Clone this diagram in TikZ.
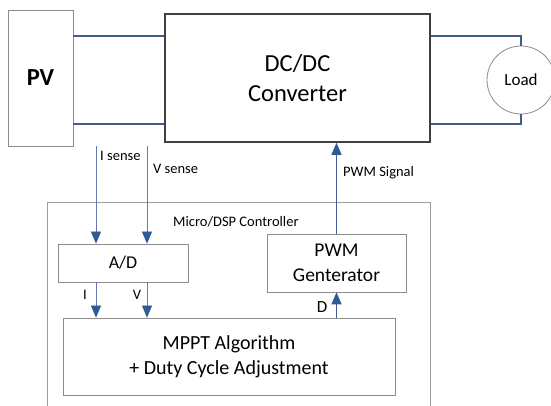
\documentclass[tikz,border=0pt]{standalone}
\usepackage{fontspec}
\setmainfont{Carlito}
\usepackage{tikz}
\usetikzlibrary{arrows.meta,calc}

\definecolor{wireblue}{HTML}{3F5B8F}
\definecolor{senseblue}{HTML}{6A78AE}
\definecolor{tipblue}{HTML}{2E5A96}
\definecolor{boxgray}{HTML}{8C8C8C}

\begin{document}
\begin{tikzpicture}[x=1pt,y=-1pt,
  box/.style={draw=boxgray,line width=0.8pt,rectangle,align=center,inner sep=0pt},
  wire/.style={draw=wireblue,line width=1.6pt},
  sense/.style={draw=senseblue,line width=0.7pt,-{Triangle[length=12pt,width=10pt,color=tipblue]}},
  pwmsig/.style={draw=wireblue,line width=1.6pt,-{Triangle[length=12pt,width=10pt,color=tipblue]}},
  lbl/.style={font=\fontsize{14.5}{16}\selectfont,inner sep=0pt}]
\clip (0,0) rectangle (551,406);
\useasboundingbox (0,0) rectangle (551,406);
% power side
\node[box,minimum width=65pt,minimum height=136pt,font=\fontsize{24.5}{28}\selectfont\bfseries] (pv) at (40.5,78) {PV};
\node[box,draw=black!75,line width=1.6pt,minimum width=265pt,minimum height=128pt,
  font=\fontsize{24.5}{30}\selectfont] (dc) at (297.5,78) {DC/DC\\Converter};
\node[box,circle,minimum size=68pt,font=\fontsize{17}{20}\selectfont] (load) at (521,80) {Load};
\draw[wire] ([yshift=42pt]pv.east) -- ([yshift=42pt]dc.west);
\draw[wire] ([yshift=-46pt]pv.east) -- ([yshift=-46pt]dc.west);
\draw[wire] ([yshift=42pt]dc.east) -| (load.north);
\draw[wire] ([yshift=-46pt]dc.east) -| (load.south);
% controller
\draw[draw=boxgray!85,line width=0.8pt] (47,410) -- (47,202) -- (430,202) -- (430,410);
\node[lbl,anchor=west] (ctrl) at (173,222) {Micro/DSP Controller};
\node[box,minimum width=130pt,minimum height=38pt,font=\fontsize{18}{20}\selectfont] (ad) at (123,263) {A/D};
\node[box,minimum width=139pt,minimum height=58pt,font=\fontsize{19.5}{25}\selectfont] (pwm) at (336.5,263) {PWM\\Genterator};
\node[box,minimum width=332pt,minimum height=77pt,font=\fontsize{20}{25}\selectfont] (mppt) at (229,356.5) {MPPT Algorithm\\+ Duty Cycle Adjustment};
% sensing
\coordinate (isense) at (96,146);
\coordinate (vsense) at (147,146);
\foreach \s in {isense,vsense} {
  \draw[sense] (\s) -- (\s |- ad.north);
  \draw[sense] (ad.south -| \s) -- (mppt.north -| \s);
}
\node[lbl,anchor=west] (ilbl) at (100,156) {I sense};
\node[lbl,anchor=west] (vlbl) at (153,169) {V sense};
\node[lbl] (ilab) at (85,295) {I};
\node[lbl] (vlab) at (137,295) {V};
% duty cycle and gate signal
\draw[pwmsig] (mppt.north -| pwm.south) -- (pwm.south);
\draw[pwmsig] (pwm.north) -- (pwm.north |- dc.south);
\node[lbl,font=\fontsize{17}{18}\selectfont] (dlab) at (322,307) {D};
\node[lbl,anchor=west] (siglbl) at (343,173) {PWM Signal};
\end{tikzpicture}
\end{document}
